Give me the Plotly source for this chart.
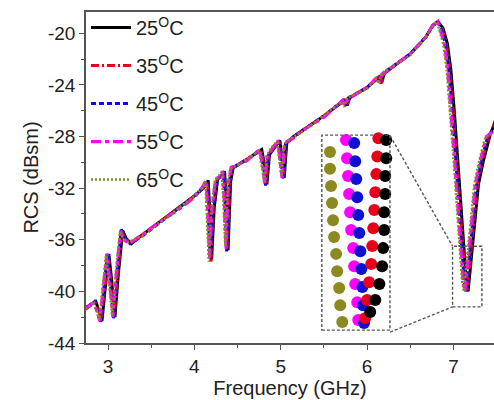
import plotly.graph_objects as go

# ---------------- data ----------------
labels = ["25<sup>O</sup>C", "35<sup>O</sup>C", "45<sup>O</sup>C", "55<sup>O</sup>C", "65<sup>O</sup>C"]

f25 = [2.745, 2.80, 2.86, 2.90, 2.93, 2.97, 3.01, 3.04, 3.08, 3.12, 3.17, 3.21, 3.27, 3.40, 3.60, 3.83, 4.00,
       4.12, 4.16, 4.18, 4.20, 4.23, 4.27, 4.32, 4.35, 4.37, 4.39, 4.42, 4.45, 4.60,
       4.78, 4.82, 4.84, 4.87, 4.92, 4.99, 5.02, 5.04, 5.07, 5.15, 5.26, 5.50,
       5.74, 5.77, 5.80, 6.00, 6.14, 6.17, 6.20, 6.50, 6.68, 6.76, 6.82,
       6.88, 6.93, 6.97, 7.01, 7.05, 7.09, 7.12, 7.15, 7.17, 7.19, 7.23, 7.29, 7.35, 7.42, 7.50]
r25 = [-41.3, -41.0, -40.8, -41.6, -42.3, -39.6, -37.1, -39.0, -42.0, -38.6, -35.3, -35.9, -36.3, -35.6, -34.6, -33.5, -32.6,
       -31.9, -31.4, -34.0, -37.5, -33.5, -31.3, -31.0, -30.7, -33.0, -36.8, -31.5, -30.4, -29.8,
       -29.0, -30.5, -31.7, -29.4, -28.9, -28.3, -30.0, -31.2, -28.5, -28.0, -27.5, -26.4,
       -25.2, -25.6, -25.0, -24.2, -23.4, -23.8, -23.1, -21.6, -20.3, -19.4, -19.1,
       -19.6, -20.8, -22.8, -26.0, -29.8, -33.6, -36.8, -39.3, -40.0, -38.6, -35.4, -31.7, -29.8, -28.0, -26.5]

f35 = [2.745, 2.80, 2.852, 2.892, 2.922, 2.962, 3.002, 3.032, 3.072, 3.112, 3.162, 3.202, 3.262, 3.40, 3.60, 3.83, 4.00,
       4.112, 4.152, 4.172, 4.192, 4.222, 4.262, 4.312, 4.342, 4.362, 4.382, 4.412, 4.442, 4.60,
       4.772, 4.812, 4.832, 4.862, 4.912, 4.982, 5.012, 5.032, 5.062, 5.15, 5.26, 5.50,
       5.732, 5.762, 5.792, 6.00, 6.132, 6.162, 6.192, 6.50, 6.68, 6.76, 6.82,
       6.868, 6.918, 6.958, 6.998, 7.038, 7.078, 7.108, 7.138, 7.158, 7.178, 7.218, 7.278, 7.338, 7.408, 7.50]
r35 = [-41.4, -41.0, -40.9, -41.5, -42.2, -39.5, -37.2, -39.1, -41.8, -38.7, -35.4, -35.9, -36.2, -35.6, -34.6, -33.5, -32.6,
       -31.9, -31.5, -34.2, -37.8, -33.4, -31.3, -31.0, -30.8, -33.2, -36.6, -31.6, -30.4, -29.8,
       -29.0, -30.6, -31.6, -29.4, -28.9, -28.3, -30.1, -31.1, -28.5, -28.0, -27.5, -26.4,
       -25.2, -25.7, -25.0, -24.2, -23.4, -23.9, -23.1, -21.6, -20.3, -19.4, -19.1,
       -19.6, -20.8, -22.8, -26.0, -29.8, -33.6, -36.8, -39.3, -40.0, -38.6, -35.4, -31.7, -29.8, -28.0, -26.8]

f45 = [2.745, 2.80, 2.844, 2.884, 2.914, 2.954, 2.994, 3.024, 3.064, 3.104, 3.154, 3.194, 3.254, 3.40, 3.60, 3.83, 4.00,
       4.104, 4.144, 4.164, 4.184, 4.214, 4.254, 4.304, 4.334, 4.354, 4.374, 4.404, 4.434, 4.60,
       4.764, 4.804, 4.824, 4.854, 4.904, 4.974, 5.004, 5.024, 5.054, 5.15, 5.26, 5.50,
       5.724, 5.754, 5.784, 6.00, 6.124, 6.154, 6.184, 6.50, 6.68, 6.76, 6.82,
       6.856, 6.906, 6.946, 6.986, 7.026, 7.066, 7.096, 7.126, 7.146, 7.166, 7.206, 7.266, 7.326, 7.396, 7.50]
r45 = [-41.2, -41.1, -40.8, -41.7, -42.4, -39.6, -37.0, -39.2, -42.1, -38.5, -35.2, -35.8, -36.3, -35.7, -34.7, -33.5, -32.6,
       -32.0, -31.4, -34.1, -37.6, -33.6, -31.4, -31.0, -30.7, -33.1, -36.9, -31.5, -30.5, -29.8,
       -29.1, -30.5, -31.8, -29.5, -28.9, -28.4, -30.0, -31.3, -28.6, -28.0, -27.5, -26.4,
       -25.2, -25.6, -25.0, -24.2, -23.4, -23.8, -23.1, -21.6, -20.3, -19.4, -19.1,
       -19.6, -20.8, -22.8, -26.0, -29.8, -33.6, -36.8, -39.3, -40.0, -38.6, -35.4, -31.7, -29.8, -28.0, -27.1]

f55 = [2.745, 2.80, 2.836, 2.876, 2.906, 2.946, 2.986, 3.016, 3.056, 3.096, 3.146, 3.186, 3.246, 3.40, 3.60, 3.83, 4.00,
       4.096, 4.136, 4.156, 4.176, 4.206, 4.246, 4.296, 4.326, 4.346, 4.366, 4.396, 4.426, 4.60,
       4.756, 4.796, 4.816, 4.846, 4.896, 4.966, 4.996, 5.016, 5.046, 5.15, 5.26, 5.50,
       5.716, 5.746, 5.776, 6.00, 6.116, 6.146, 6.176, 6.50, 6.68, 6.76, 6.82,
       6.844, 6.894, 6.934, 6.974, 7.014, 7.054, 7.084, 7.114, 7.134, 7.154, 7.194, 7.254, 7.314, 7.384, 7.50]
r55 = [-41.3, -41.0, -40.9, -41.6, -42.3, -39.7, -37.1, -39.0, -42.0, -38.6, -35.3, -36.0, -36.3, -35.6, -34.6, -33.6, -32.7,
       -31.9, -31.4, -34.0, -37.4, -33.5, -31.3, -31.1, -30.7, -33.0, -36.7, -31.5, -30.4, -29.9,
       -29.0, -30.5, -31.7, -29.4, -29.0, -28.3, -30.0, -31.2, -28.5, -28.1, -27.5, -26.5,
       -25.2, -25.6, -25.1, -24.2, -23.4, -23.8, -23.2, -21.6, -20.3, -19.4, -19.1,
       -19.6, -20.8, -22.8, -26.0, -29.8, -33.6, -36.8, -39.3, -40.0, -38.6, -35.4, -31.7, -29.8, -28.0, -27.4]

f65 = [2.745, 2.80, 2.828, 2.868, 2.898, 2.938, 2.978, 3.008, 3.048, 3.088, 3.138, 3.178, 3.238, 3.40, 3.60, 3.83, 4.00,
       4.088, 4.128, 4.148, 4.168, 4.198, 4.238, 4.288, 4.318, 4.338, 4.358, 4.388, 4.418, 4.60,
       4.748, 4.788, 4.808, 4.838, 4.888, 4.958, 4.988, 5.008, 5.038, 5.15, 5.26, 5.50,
       5.708, 5.738, 5.768, 6.00, 6.108, 6.138, 6.168, 6.50, 6.68, 6.76, 6.80,
       6.832, 6.882, 6.922, 6.962, 7.002, 7.042, 7.072, 7.102, 7.122, 7.142, 7.182, 7.242, 7.302, 7.372, 7.50]
r65 = [-41.4, -41.1, -40.8, -41.5, -42.2, -39.5, -37.2, -39.1, -41.9, -38.7, -35.4, -35.9, -36.2, -35.7, -34.7, -33.5, -32.6,
       -32.0, -31.5, -34.1, -37.7, -33.4, -31.4, -31.0, -30.8, -33.1, -36.5, -31.6, -30.5, -29.8,
       -29.1, -30.6, -31.6, -29.5, -28.9, -28.4, -30.1, -31.1, -28.6, -28.0, -27.6, -26.4,
       -25.3, -25.7, -25.0, -24.3, -23.5, -23.9, -23.1, -21.7, -20.3, -19.4, -19.1,
       -19.6, -20.8, -22.8, -26.0, -29.8, -33.6, -36.8, -39.3, -40.0, -38.6, -35.4, -31.7, -29.8, -28.0, -27.7]

# inset (zoom of the 7.1 GHz dip), markers per series
in_x25 = [7.1794, 7.1794, 7.1791, 7.1791, 7.1788, 7.1788, 7.1785, 7.1782, 7.1774, 7.1762, 7.1747]
in_y25 = [-36.31, -36.72, -37.12, -37.53, -37.94, -38.34, -38.75, -39.16, -39.56, -39.92, -40.19]
in_x35 = [7.1771, 7.1768, 7.1765, 7.1762, 7.1759, 7.1756, 7.1753, 7.1750, 7.1744, 7.1738, 7.1732]
in_y35 = [-36.27, -36.68, -37.08, -37.49, -37.89, -38.30, -38.70, -39.11, -39.52, -39.92, -40.33]
in_x45 = [7.1700, 7.1703, 7.1706, 7.1709, 7.1712, 7.1715, 7.1718, 7.1721, 7.1724, 7.1726, 7.1729]
in_y45 = [-36.38, -36.79, -37.19, -37.60, -38.00, -38.41, -38.82, -39.22, -39.63, -40.04, -40.44]
in_x55 = [7.1676, 7.1679, 7.1682, 7.1685, 7.1688, 7.1691, 7.1697, 7.1700, 7.1703, 7.1709, 7.1712]
in_y55 = [-36.31, -36.72, -37.12, -37.53, -37.94, -38.34, -38.75, -39.16, -39.56, -39.97, -40.37]
in_x65 = [7.1629, 7.1629, 7.1632, 7.1635, 7.1638, 7.1641, 7.1647, 7.1650, 7.1656, 7.1659, 7.1665]
in_y65 = [-36.58, -36.96, -37.35, -37.73, -38.12, -38.50, -38.88, -39.27, -39.65, -40.04, -40.42]

x_ticks = [3, 4, 5, 6, 7]
y_ticks = [-20, -24, -28, -32, -36, -40, -44]
y_ticktext = ["-20", "-24", "-28", "-32", "-36", "-40", "-44"]

# ---------------- styles ----------------
colors = ["#000000", "#e8001a", "#1010d0", "#ff00ff", "#8a8a20"]
dashes = ["solid", "8px,3px,2px,3px", "5px,3px", "10px,4px,4px,4px", "2px,2px"]
widths = [3.0, 3.0, 3.0, 3.2, 2.6]
FONT = "Liberation Sans, Arial, sans-serif"

series = [(f25, r25), (f35, r35), (f45, r45), (f55, r55), (f65, r65)]
inset = [(in_x25, in_y25), (in_x35, in_y35), (in_x45, in_y45), (in_x55, in_y55), (in_x65, in_y65)]

fig = go.Figure()
for i, (fx, ry) in enumerate(series):
    fig.add_trace(go.Scatter(
        x=fx, y=ry, mode="lines", name=labels[i], legendgroup=str(i),
        line=dict(color=colors[i], dash=dashes[i], width=widths[i]),
    ))
for i in [4, 3, 2, 1, 0]:
    ix, iy = inset[i]
    fig.add_trace(go.Scatter(
        x=ix, y=iy, mode="markers", xaxis="x2", yaxis="y2", showlegend=False,
        marker=dict(color=colors[i], size=12, line=dict(width=0)),
        cliponaxis=False,
    ))

# dashed inset frame, small target box and connecting lines
dash_line = dict(color="#555555", width=1.4, dash="3px,2px")
fig.add_shape(type="rect", xref="paper", yref="paper", x0=0.578, x1=0.745, y0=0.039, y1=0.628,
              line=dash_line, layer="above")
fig.add_shape(type="rect", xref="x", yref="y", x0=6.99, x1=7.33, y0=-41.2, y1=-36.5, line=dash_line)
fig.add_shape(type="line", xref="x", yref="y", x0=6.268, y0=-27.95, x1=6.99, y1=-36.5, line=dash_line)
fig.add_shape(type="line", xref="x", yref="y", x0=6.268, y0=-43.15, x1=6.99, y1=-41.2, line=dash_line)

axis_common = dict(showgrid=False, zeroline=False, showline=True, linecolor="#555555", linewidth=1.5,
                   ticks="outside", ticklen=5, tickwidth=1.3, tickcolor="#555555",
                   tickfont=dict(family=FONT, size=19, color="#222222"))

fig.update_layout(
    width=494, height=400,
    margin=dict(l=86, r=0, t=12, b=57),
    paper_bgcolor="white", plot_bgcolor="white",
    font=dict(family=FONT, color="#222222"),
    xaxis=dict(range=[2.745, 7.47], tickvals=x_ticks, mirror=True,
               minor=dict(dtick=0.5, tick0=3, ticks="outside", ticklen=3, tickcolor="#555555"),
               title=dict(text="Frequency (GHz)", font=dict(family=FONT, size=20, color="#222222"), standoff=0),
               **axis_common),
    yaxis=dict(range=[-44, -18.35], tickvals=y_ticks, ticktext=y_ticktext, mirror=False,
               minor=dict(dtick=2, tick0=-44, ticks="outside", ticklen=3, tickcolor="#555555"),
               title=dict(text="RCS (dBsm)", font=dict(family=FONT, size=20, color="#222222"), standoff=4),
               **axis_common),
    xaxis2=dict(domain=[0.578, 0.745], range=[7.1605, 7.1805], anchor="y2", visible=False),
    yaxis2=dict(domain=[0.039, 0.628], range=[-40.6, -36.2], anchor="x2", visible=False),
    legend=dict(x=0.0, y=1.012, xanchor="left", yanchor="top", bgcolor="rgba(0,0,0,0)",
                font=dict(family=FONT, size=20, color="#222222"),
                traceorder="grouped", tracegroupgap=9, itemwidth=40),
    showlegend=True,
)

fig.write_html("out.html")
